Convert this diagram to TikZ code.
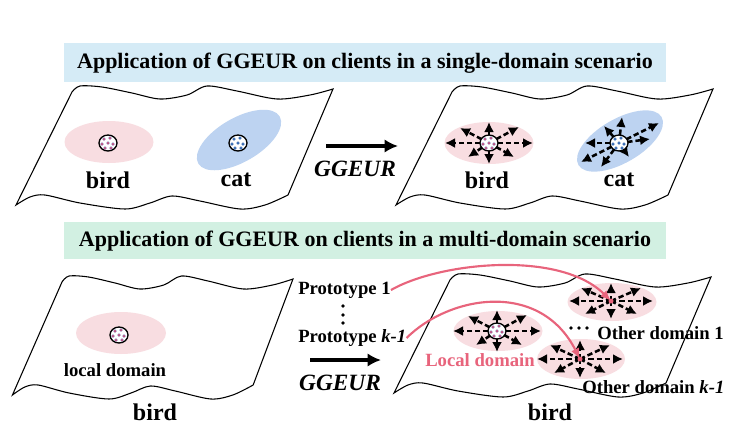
\documentclass[tikz,border=0pt]{standalone}
\usepackage{fontspec}
\setmainfont{Liberation Serif}
\usetikzlibrary{arrows.meta,positioning,calc}

\definecolor{birdpink}{HTML}{F8DDE1}
\definecolor{catblue}{HTML}{BDD3F1}
\definecolor{bannerblue}{HTML}{D5EBF6}
\definecolor{bannergreen}{HTML}{D2F0E2}
\definecolor{protored}{HTML}{E8647C}
\definecolor{dotblue}{HTML}{3A6DB5}
\definecolor{dotred}{HTML}{E0507A}

\tikzset{
  sheet/.style={draw=black, fill=white, line width=0.8pt},
  spread/.style={dash pattern=on 4pt off 2.2pt, line width=1.9pt, -{Latex[length=7.5pt,width=7.5pt]}},
  bigarrow/.style={line width=2.6pt, -{Latex[length=10pt,width=10pt]}},
  protoarrow/.style={protored, line width=1.6pt, -{Latex[length=8pt,width=6.5pt]}},
  banner/.style={font=\fontsize{16.5}{18}\selectfont\bfseries, inner sep=0pt},
  classlabel/.style={font=\fontsize{18}{20}\selectfont\bfseries, inner sep=0pt},
  smalllabel/.style={font=\fontsize{14}{16}\selectfont\bfseries, inner sep=0pt},
  ggeur/.style={font=\fontsize{17.5}{20}\selectfont\bfseries\itshape, inner sep=0pt},
}

% wavy sheet, #1 top-left corner, #2 horizontal scale
\newcommand{\wavysheet}[2]{%
  \begin{scope}[shift={#1}, xscale=#2]
    \draw[sheet] plot[smooth] coordinates {(0,0) (8,-6) (30,-5) (60,1) (88,7) (115,3) (135,-6) (165,-1) (205,7) (238,3) (261,-3)}
      -- plot[smooth] coordinates {(216,103) (193,113) (168,117) (128,109) (100,104) (78,111) (53,117) (8,111) (-27,103) (-42,105) (-56,113)}
      -- cycle;
  \end{scope}}

% prototype circle, #1 centre, #2 dot colour
\newcommand{\protocircle}[2]{%
  \filldraw[fill=white, line width=1pt] (#1) ellipse [x radius=9, y radius=8];
  \foreach \dx/\dy in {-4/-4, 2/-5, -6/1, 0/0, 5/1, -3/5, 3/5}
    \filldraw[fill=#2, draw=dotblue, line width=0.2pt] ($(#1)+(\dx,\dy)$) circle [radius=1.5];}

% eight augmentation arrows
\newcommand{\spreadarrows}[1]{%
  \foreach \ex/\ey in {-44/0, 44/0, 0/-21, 0/21, -29/-15, 30/-16, -21/14, 25/14}
    \draw[spread] (#1) -- ++(\ex,\ey);}

\begin{document}
\begin{tikzpicture}[x=0.75pt, y=-0.75pt]
  \useasboundingbox (0,0) rectangle (744,433);

  % Banners
  \fill[bannerblue] (64,43) rectangle (666,82);
  \node[banner] (title1) at (365,63) {Application of GGEUR on clients in a single-domain scenario};
  \fill[bannergreen] (64,222) rectangle (666,259);
  \node[banner] (title2) at (365,241) {Application of GGEUR on clients in a multi-domain scenario};

  % Single-domain, before
  \wavysheet{(72,92)}{1}
  \coordinate (birdA) at (108,143);
  \coordinate (catA) at (238,143);
  \fill[birdpink] (109,142) ellipse [x radius=44.5, y radius=21];
  \fill[catblue, rotate around={30:(239,140)}] (239,140) ellipse [x radius=47, y radius=22];
  \protocircle{birdA}{dotred}
  \protocircle{catA}{dotblue}
  \node[classlabel] (birdlabA) at (108,180) {bird};
  \node[classlabel] (catlabA) at (236,180) {cat};

  % GGEUR arrow
  \coordinate (arrA1) at (326,146);
  \coordinate (arrA2) at (398,146);
  \draw[bigarrow] (arrA1) -- (arrA2);
  \node[ggeur] (ggeurA) at (355,169) {GGEUR};

  % Single-domain, after
  \wavysheet{(452,92)}{1}
  \coordinate (birdB) at (489,143);
  \coordinate (catB) at (619,143);
  \fill[birdpink] (489,143) ellipse [x radius=44.5, y radius=21];
  \fill[catblue, rotate around={30:(620,141)}] (620,141) ellipse [x radius=48, y radius=22];
  \spreadarrows{birdB}
  \foreach \ex/\ey in {-34/0, 40/-20, 31/-4, 3/-26, -15/-17, -38/19, -18/24, 10/14}
    \draw[spread] (catB) -- ++(\ex,\ey);
  \protocircle{birdB}{dotred}
  \protocircle{catB}{dotblue}
  \node[classlabel] (birdlabB) at (487,180) {bird};
  \node[classlabel] (catlabB) at (619,180) {cat};

  % Multi-domain, local client
  \wavysheet{(62,282)}{0.885}
  \coordinate (localA) at (119,335);
  \fill[birdpink] (121,333) ellipse [x radius=45, y radius=21];
  \protocircle{localA}{dotred}
  \node[smalllabel] (locallab) at (115,370) {local domain};
  \node[classlabel] (birdlabC) at (155,412) {bird};

  % Prototypes and arrow
  \node[smalllabel, anchor=west] (proto1) at (298,290) {Prototype 1};
  \node[smalllabel, anchor=west] (protok) at (298,338) {Prototype \textit{k-1}};
  \foreach \y in {306,315,323}
    \fill (343,\y) circle [radius=1.9];
  \coordinate (arrC1) at (310,360);
  \coordinate (arrC2) at (381,360);
  \draw[bigarrow] (arrC1) -- (arrC2);
  \node[ggeur] (ggeurC) at (340,383) {GGEUR};

  % Multi-domain, augmented client
  \wavysheet{(450,280)}{1}
  \coordinate (localB) at (497,331);
  \coordinate (other1) at (611,301);
  \coordinate (otherk) at (580,359);
  \fill[birdpink] (498,331) ellipse [x radius=44.5, y radius=20];
  \fill[birdpink] (612,302) ellipse [x radius=44.5, y radius=19];
  \fill[birdpink] (581,359) ellipse [x radius=44, y radius=20];
  \spreadarrows{localB}
  \foreach \ex/\ey in {-42/0, 42/0, 0/-18, 0/18, -30/-13, 30/-13, -26/13, 26/13}
    \draw[spread] (other1) -- ++(\ex,\ey);
  \foreach \ex/\ey in {-43/0, 43/0, 0/-19, 0/19, -30/-14, 30/-14, -26/14, 26/14}
    \draw[spread] (otherk) -- ++(\ex,\ey);
  \protocircle{localB}{dotred}
  \fill[protored] (other1) circle [radius=2.5];
  \fill[protored] (otherk) circle [radius=2.5];
  \node[smalllabel, text=protored] (locallabB) at (480,360) {Local domain};
  \foreach \x in {571,579,587}
    \fill (\x,328) circle [radius=1.9];
  \node[smalllabel, anchor=west] (other1lab) at (597,333) {Other domain 1};
  \node[smalllabel, anchor=west] (otherklab) at (582,387) {Other domain \textit{k-1}};
  \node[classlabel] (birdlabD) at (550,412) {bird};

  % Prototype transfer
  \draw[protoarrow] (proto1.east) .. controls (440,262) and (560,250) .. (other1);
  \draw[protoarrow] (protok.east) .. controls (450,295) and (540,280) .. (otherk);
\end{tikzpicture}
\end{document}
